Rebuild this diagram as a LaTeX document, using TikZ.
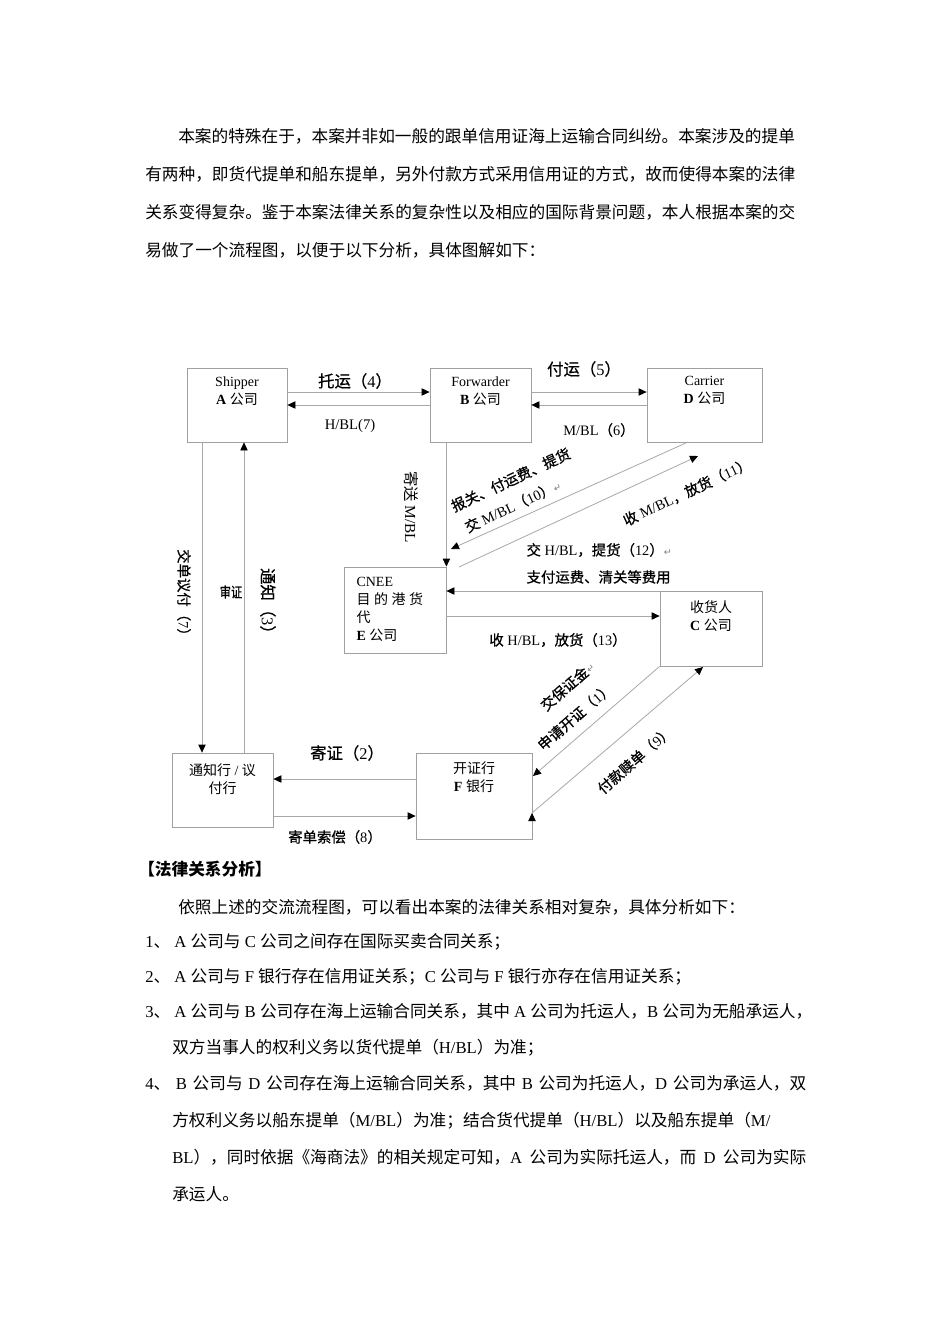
\documentclass[tikz,border=0pt]{standalone}
\usepackage{fontspec}
\setmainfont{Liberation Serif}
\newfontfamily\cjk{Noto Sans CJK SC}
\newfontfamily\cjkh{Noto Sans CJK SC}[FakeBold=0.7]
\newfontfamily\dvs{DejaVu Sans}
\usetikzlibrary{arrows.meta, fit, positioning}

% Chinese characters are switched to the CJK font automatically
\XeTeXinterchartokenstate=1
\newXeTeXintercharclass\cjkclass
\newcount\cjkc
\def\cjkrange#1#2{\cjkc=#1 \loop\XeTeXcharclass\cjkc=\cjkclass \ifnum\cjkc<#2 \advance\cjkc by 1 \repeat}
\cjkrange{"3000}{"303F}
\cjkrange{"4E00}{"9FFF}
\cjkrange{"FF00}{"FFEF}
\let\cjkfont\cjk
\XeTeXinterchartoks 0 \cjkclass = {\begingroup\cjkfont}
\XeTeXinterchartoks 4095 \cjkclass = {\begingroup\cjkfont}
\XeTeXinterchartoks \cjkclass 0 = {\endgroup}
\XeTeXinterchartoks \cjkclass 4095 = {\endgroup}
\XeTeXlinebreaklocale "zh"
\XeTeXlinebreakskip = 0pt plus 1pt

\newdimen\pxu \pxu=0.75pt
\newcommand{\ret}{{\dvs\fontsize{7}{7}\selectfont\color{gray}↵}}

\definecolor{boxgray}{HTML}{A0A0A0}
\definecolor{linegray}{HTML}{A8A8A8}

\tikzset{
  box/.style={draw=boxgray, line width=0.6pt, inner sep=0pt},
  boxtext/.style={font=\fontsize{10.5}{13.5}\selectfont, align=center, inner sep=0pt},
  flow/.style={draw=linegray, line width=0.6pt, -{Triangle[length=6pt, width=5.5pt, color=black]}},
  tag/.style={font=\let\cjkfont\cjkh\fontsize{12.3}{14}\selectfont, inner sep=1pt},
  note/.style={font=\let\cjkfont\cjkh\fontsize{10.8}{12}\selectfont, inner sep=1pt},
  body/.style={font=\fontsize{12.5}{15}\selectfont, anchor=base west, inner sep=0pt},
}

\begin{document}
\begin{tikzpicture}[x=0.75pt, y=-0.75pt]
  \useasboundingbox[fill=white] (0,0) rectangle (950,1344);

  % Text above the chart
  \node[body] (p1a) at (178,143) {\makebox[628\pxu][s]{本案的特殊在于，本案并非如一般的跟单信用证海上运输合同纠纷。本案涉及的提单}};
  \node[body] (p1b) at (145,181) {\makebox[661\pxu][s]{有两种，即货代提单和船东提单，另外付款方式采用信用证的方式，故而使得本案的法律}};
  \node[body] (p1c) at (145,219) {\makebox[661\pxu][s]{关系变得复杂。鉴于本案法律关系的复杂性以及相应的国际背景问题，本人根据本案的交}};
  \node[body] (p1d) at (145,257) {易做了一个流程图，以便于以下分析，具体图解如下：};

  % The parties
  \node[box, fit={(187,368) (287,442)}] (shipper) {};
  \node[box, fit={(430,368) (531,442)}] (fwd) {};
  \node[box, fit={(647,368) (762,442)}] (carrier) {};
  \node[box, fit={(344,567) (446,653)}] (cnee) {};
  \node[box, fit={(660,591) (762,666)}] (buyer) {};
  \node[box, fit={(172,753) (273,827)}] (advbank) {};
  \node[box, fit={(416,753) (532,839)}] (lcbank) {};

  \node[boxtext, below=6.5pt of shipper.north] (shippertxt) {Shipper\\\textbf{A} 公司};
  \node[boxtext, below=6.5pt of fwd.north] (fwdtxt) {Forwarder\\\textbf{B} 公司};
  \node[boxtext, below=6.5pt of carrier.north] (carriertxt) {Carrier\\\textbf{D} 公司};
  \node[boxtext, align=left, anchor=north west] (cneetxt) at ([xshift=9.5pt, yshift=-7.5pt]cnee.north west) {CNEE\\目\ 的\ 港\ 货\\代\\\textbf{E} 公司};
  \node[boxtext, below=7pt of buyer.north] (buyertxt) {收货人\\\textbf{C} 公司};
  \node[boxtext, below=8.5pt of advbank.north] (advtxt) {通知行 / 议\\付行};
  \node[boxtext, below=7pt of lcbank.north] (lctxt) {开证行\\\textbf{F} 银行};

  % Rows and columns for the straight connectors
  \coordinate (rowa) at (0,392);
  \coordinate (rowb) at (0,405);
  \coordinate (rowc) at (0,591);
  \coordinate (rowd) at (0,616);
  \coordinate (rowe) at (0,779);
  \coordinate (rowf) at (0,816);
  \coordinate (cola) at (202,0);
  \coordinate (colb) at (244,0);
  % Free ends of the slanted connectors
  \coordinate (ma) at (688,442);
  \coordinate (mb) at (451,549);
  \coordinate (mc) at (459,567);
  \coordinate (md) at (698,456);
  \coordinate (lca) at (533,776);
  \coordinate (lcb) at (532,813);
  \coordinate (byb) at (703,667);

  \path[flow]
    (shipper.east |- rowa) edge (fwd.west |- rowa)
    (fwd.west |- rowb) edge (shipper.east |- rowb)
    (fwd.east |- rowa) edge (carrier.west |- rowa)
    (carrier.west |- rowb) edge (fwd.east |- rowb)
    (fwd.south -| cnee.north east) edge (cnee.north east)
    (ma) edge (mb)
    (mc) edge (md)
    (buyer.west |- rowc) edge (cnee.east |- rowc)
    (cnee.east |- rowd) edge (buyer.west |- rowd)
    (shipper.south -| cola) edge (advbank.north -| cola)
    (advbank.north -| colb) edge (shipper.south -| colb)
    (lcbank.west |- rowe) edge (advbank.east |- rowe)
    (advbank.east |- rowf) edge (lcbank.west |- rowf)
    (buyer.south west) edge (lca)
    (lcb) edge (byb);

  % Labels of the connectors
  \node[tag] (l4) at (355,381) {托运（4）};
  \node[tag, font=\fontsize{11}{13}\selectfont] (l7) at (350,426) {H/BL(7)};
  \node[tag] (l5) at (584,369) {付运（5）};
  \node[note] (l6) at (599,430) {M/BL（6）};
  \node[tag, font=\let\cjkfont\cjk\fontsize{11.5}{13}\selectfont, rotate=-90] (lsend) at (411,507) {寄送 M/BL};
  \node[note, rotate=25, align=left, font=\let\cjkfont\cjkh\fontsize{10.8}{18.5}\selectfont] (l10) at (516,491) {报关、付运费、提货\\\ 交 M/BL（10）\ret};
  \node[note, rotate=25] (l11) at (687,492) {收 M/BL，放货（11）};
  \node[note, anchor=west] (l12) at (525,550) {交 H/BL，提货（12）\ret};
  \node[note, anchor=west] (lfee) at (525,577) {支付运费、清关等费用};
  \node[note] (l13) at (558,640) {收 H/BL，放货（13）};
  \node[note, rotate=-90] (l7b) at (184,596) {交单议付（7）};
  \node[note, fill=white, xscale=0.78] (lcheck) at (231,592) {审证};
  \node[tag, rotate=-90] (l3) at (268,605) {通知（3）};
  \node[tag] (l2) at (347,753) {寄证（2）};
  \node[note] (l8) at (335,837) {寄单索偿（8）};
  \node[note, rotate=41, align=right, font=\let\cjkfont\cjkh\fontsize{10.8}{21}\selectfont] (l1) at (566,706) {交保证金\ret\\申请开证（1）};
  \node[note, rotate=41] (l9) at (635,760) {付款赎单（9）};

  % Text below the chart
  \node[body, font=\bfseries\fontsize{12.5}{15}\selectfont] (p2) at (138,875) {【法律关系分析】};
  \node[body] (p3) at (178,913) {依照上述的交流流程图，可以看出本案的法律关系相对复杂，具体分析如下：};
  \node[body] (p4) at (145,947) {1、 A 公司与 C 公司之间存在国际买卖合同关系；};
  \node[body] (p5) at (145,982) {2、 A 公司与 F 银行存在信用证关系；C 公司与 F 银行亦存在信用证关系；};
  \node[body] (p6a) at (145,1017) {\makebox[667\pxu][s]{3、 A 公司与 B 公司存在海上运输合同关系，其中 A 公司为托运人，B 公司为无船承运人，}};
  \node[body] (p6b) at (172,1053) {双方当事人的权利义务以货代提单（H/BL）为准；};
  \node[body] (p7a) at (145,1089) {\makebox[661\pxu][s]{4、 B 公司与 D 公司存在海上运输合同关系，其中 B 公司为托运人，D 公司为承运人，双}};
  \node[body] (p7b) at (172,1126) {\makebox[634\pxu][s]{方权利义务以船东提单（M/BL）为准；结合货代提单（H/BL）以及船东提单（M/}};
  \node[body] (p7c) at (172,1163) {\makebox[634\pxu][s]{BL），同时依据《海商法》的相关规定可知，A 公司为实际托运人，而 D 公司为实际}};
  \node[body] (p7d) at (172,1200) {承运人。};
\end{tikzpicture}
\end{document}
